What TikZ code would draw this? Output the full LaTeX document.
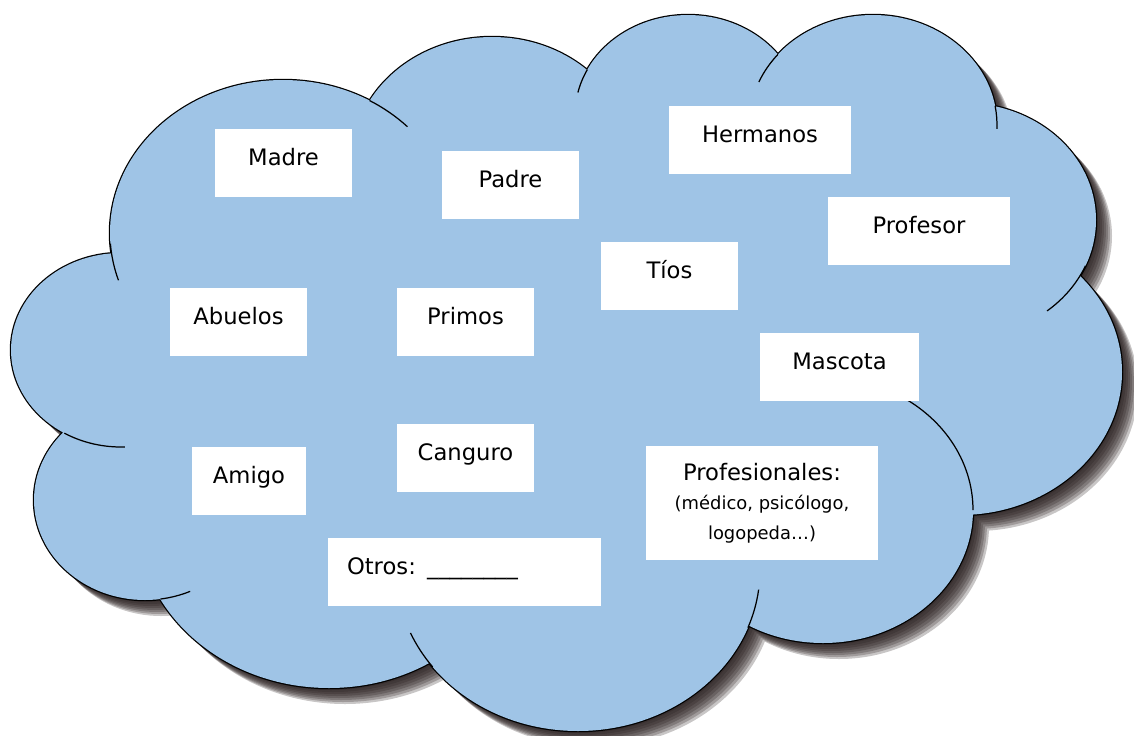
\documentclass[tikz,border=0pt]{standalone}
\usepackage{fontspec}
\setmainfont{DejaVu Sans}
\definecolor{cloudblue}{RGB}{159,196,230}
\definecolor{cloudshade}{RGB}{36,26,26}
% white label cards
\tikzset{
  card/.style={fill=white, inner sep=0pt, minimum height=1.36cm,
    text height=10pt, text depth=7pt},
  bigcard/.style={fill=white, inner sep=0pt, minimum height=2.28cm, align=center},
}
\newcommand\smalltxt{\fontsize{10.2}{16.7}\selectfont}
% bumps of the cloud (pixel units, y downwards)
\newcommand\cloudbumps{
  (121,350) ellipse[x radius=110, y radius=97]
  (283,233) ellipse[x radius=173, y radius=153]
  (492,161) ellipse[x radius=140, y radius=124]
  (688,115) ellipse[x radius=113, y radius=100]
  (873,125) ellipse[x radius=124, y radius=110]
  (964,220) ellipse[x radius=132, y radius=117]
  (960,372) ellipse[x radius=162, y radius=143]
  (823,510) ellipse[x radius=150, y radius=133]
  (578,570) ellipse[x radius=182, y radius=161]
  (329,518) ellipse[x radius=192, y radius=170]
  (145,500) ellipse[x radius=111, y radius=100]
}
\newcommand\cloudcore{
  (121,350) -- (283,233) -- (492,161) -- (688,115) -- (873,125) -- (964,220)
  -- (960,372) -- (823,510) -- (578,570) -- (329,518) -- (145,500) -- cycle
}
% inner end of an arc: centre, x radius, y radius, from, to
\newcommand\stub[5]{\draw[line width=0.7pt] ([shift={(#4:#2 and #3)}]#1)
  arc[start angle=#4, end angle=#5, x radius=#2, y radius=#3];}
\begin{document}
\begin{tikzpicture}[x=0.02cm, y=-0.02cm, font=\fontsize{12.9}{16.7}\selectfont]
  \useasboundingbox (0,0) rectangle (1134,735);
  % shadow
  \foreach \s in {2,4,...,16}
    \fill[cloudshade, opacity=0.25, shift={(\s,\s)}] \cloudbumps \cloudcore;
  % outline, then the fill hides the inner parts
  \draw[line width=1.4pt] \cloudbumps;
  \fill[cloudblue] \cloudbumps \cloudcore;
  \stub{283,233}{173}{153}{-60}{-44}
  \stub{283,233}{173}{153}{176}{162}
  \stub{688,115}{113}{100}{207}{193}
  \stub{873,125}{124}{110}{220}{203}
  \stub{873,125}{124}{110}{-10}{2}
  \stub{964,220}{132}{117}{23}{51}
  \stub{823,510}{150}{133}{0}{-62}
  \stub{578,570}{182}{161}{21}{7}
  \stub{578,570}{182}{161}{143}{157}
  \stub{145,500}{111}{100}{82}{66}
  \stub{121,350}{110}{97}{121}{88}

  \node[card, minimum width=2.74cm] (madre) at (283.5,162.5) {Madre};
  \node[card, minimum width=2.74cm] (padre) at (510.5,185) {Padre};
  \node[card, minimum width=3.64cm] (hermanos) at (760,140) {Hermanos};
  \node[card, minimum width=3.64cm] (profesor) at (919,231) {Profesor};
  \node[card, minimum width=2.74cm] (tios) at (669.5,276) {Tíos};
  \node[card, minimum width=2.74cm] (abuelos) at (238.5,322) {Abuelos};
  \node[card, minimum width=2.74cm] (primos) at (465.5,322) {Primos};
  \node[card, minimum width=3.18cm] (mascota) at (839.5,367) {Mascota};
  \node[card, minimum width=2.28cm] (amigo) at (249,480.5) {Amigo};
  \node[card, minimum width=2.74cm] (canguro) at (465.5,458) {Canguro};
  \node[card, inner xsep=0.38cm, text width=4.7cm, align=left] (otros)
    at (464.5,571.5) {Otros: \_\_\_\_\_\_\_\_};
  \node[bigcard, minimum width=4.64cm] (profesionales) at (762,503)
    {Profesionales:\\{\smalltxt (médico, psicólogo,}\\{\smalltxt logopeda\ldots)}};
\end{tikzpicture}
\end{document}
